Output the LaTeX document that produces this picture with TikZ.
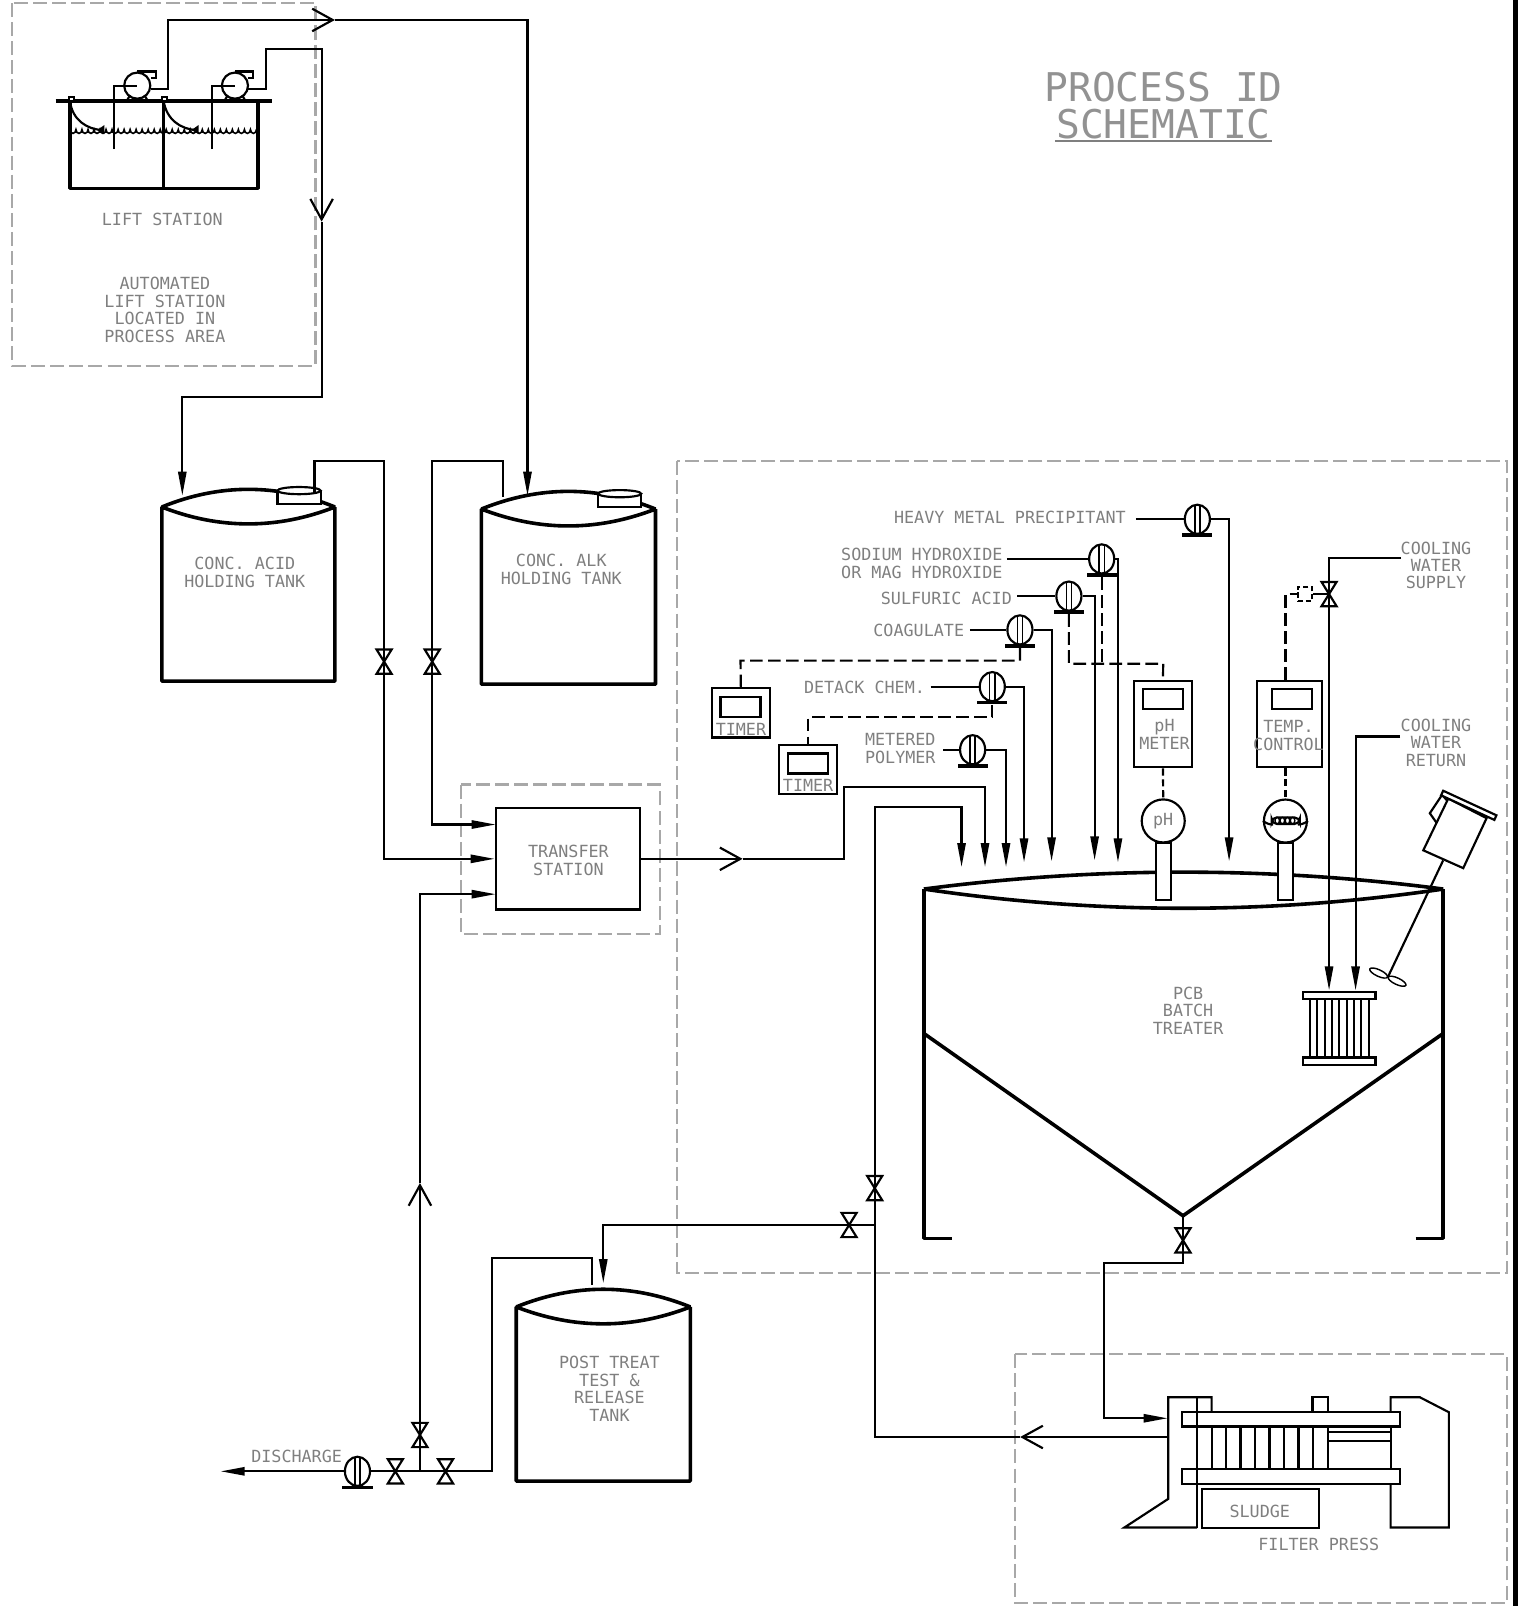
\documentclass[tikz,border=0pt]{standalone}
\usepackage{fontspec}
\setmainfont{DejaVu Sans Mono}
\usepackage{tikz}
\usetikzlibrary{arrows.meta,shapes.geometric,decorations.pathmorphing}
\definecolor{labelgray}{HTML}{7F7F7F}
\definecolor{zonegray}{HTML}{A8A8A8}
\tikzstyle{label-node}=[text=labelgray,font=\fontsize{9.3}{9.7}\selectfont,align=center,inner sep=0pt]
\tikzstyle{title-node}=[text=labelgray!85,font=\fontsize{22}{22}\selectfont,align=center,inner sep=0pt]
\tikzstyle{pump-node}=[ellipse,draw=black,line width=1.2pt,fill=white,minimum width=.49cm,minimum height=.57cm,inner sep=0pt,
  path picture={\draw[line width=.8pt] ([xshift=-.05cm]path picture bounding box.north) -- ([xshift=-.05cm]path picture bounding box.south);
    \draw[line width=.8pt] ([xshift=.05cm]path picture bounding box.north) -- ([xshift=.05cm]path picture bounding box.south);}]
\tikzstyle{base-node}=[rectangle,fill=black,minimum width=.59cm,minimum height=.07cm,inner sep=0pt]
\tikzstyle{lift-node}=[circle,draw=black,line width=1.2pt,fill=white,minimum size=.51cm,inner sep=0pt]
\tikzstyle{valve-node}=[rectangle,minimum width=.28cm,minimum height=.46cm,inner sep=0pt,
  append after command={\pgfextra{\draw[line width=1.2pt,fill=white] (\tikzlastnode.north west) -- (\tikzlastnode.north east) -- (\tikzlastnode.south west) -- (\tikzlastnode.south east) -- cycle;}}]
\tikzstyle{box-node}=[rectangle,draw=black,line width=1.2pt,fill=white,inner sep=0pt]
\tikzstyle{sensor-node}=[circle,draw=black,line width=1.2pt,fill=white,minimum size=.84cm,inner sep=0pt,text=labelgray,font=\fontsize{9.3}{9.7}\selectfont]
\tikzstyle{pipe-line}=[draw=black,line width=1.2pt,line join=miter]
\tikzstyle{tank-line}=[draw=black,line width=2pt,line join=bevel]
\tikzstyle{signal-line}=[draw=black,line width=1.2pt,dash pattern=on 7pt off 3pt]
\tikzstyle{zone-line}=[draw=zonegray,line width=1.2pt,dash pattern=on 7.8pt off 2.8pt]
\tikzstyle{open-arrow}=[->,>={Straight Barb[black,length=.4cm,width=.44cm]}]

\begin{document}
\begin{tikzpicture}[x=.02cm,y=-.02cm,>={Stealth[black,inset=0pt,length=.47cm,width=.16cm]}]
        \useasboundingbox (0,0) rectangle (1482,1568);
        \fill[black] (1477,0) rectangle (1482,1568);

        % zones
        \draw[zone-line] (12,3) rectangle (308,357);
        \draw[zone-line] (450,766) rectangle (644,912);
        \draw[zone-line] (661,450) rectangle (1471,1243);
        \draw[zone-line] (991,1322) rectangle (1471,1565);

        % title
        \node (title1)[title-node] at (1136,85) {PROCESS ID};
        \node (title2)[title-node] at (1136,121) {SCHEMATIC};
        \coordinate (title-l) at (1030,138);
        \coordinate (title-r) at (1242,138);
        \draw[draw=labelgray,line width=1.2pt] (title-l) -- (title-r);

        % lift station
        \draw[tank-line,line width=2.2pt] (54.4,99) -- (265.5,99);
        \draw[tank-line] (68.3,99) -- (68.3,184) -- (251.6,184) -- (251.6,99);
        \draw[tank-line] (159.8,99) -- (159.8,184);
        \draw[pipe-line,fill=white] (67.5,99) rectangle (72,95);
        \draw[pipe-line,fill=white] (158.5,99) rectangle (163,95);
        \draw[line width=.9pt,decorate,decoration={bumps,segment length=.235cm,amplitude=-.075cm}] (68.3,126.5) -- (251.6,126.5);
        \draw[pipe-line] (68.3,99) .. controls (71,117) and (84,126) .. (100,127);
        \draw[pipe-line] (159.8,99) .. controls (163,117) and (176,126) .. (192,127);
        \fill[black] (95,127) -- (102,122) -- (102,131) -- cycle;
        \fill[black] (187,127) -- (194,122) -- (194,131) -- cycle;

        \node (lift1)[lift-node] at (134,83.6) {};
        \node (lift2)[lift-node] at (229.4,83.6) {};
        \draw[pipe-line] (lift1.north) -- ++(18,0) -- ++(0,6.5) -- ++(-5,0);
        \draw[pipe-line] (lift2.north) -- ++(18,0) -- ++(0,6.5) -- ++(-5,0);
        \draw[pipe-line] (124,98) -- (127,93) (144,98) -- (141,93);
        \draw[pipe-line] (219.4,98) -- (222.4,93) (239.4,98) -- (236.4,93);
        \coordinate (lift1-dip) at (111.6,145.5);
        \coordinate (lift2-dip) at (206.6,145.5);
        \draw[pipe-line] (lift1-dip) |- (lift1.center);
        \draw[pipe-line] (lift2-dip) |- (lift2.center);
        \node (lift-label)[label-node] at (158.5,213.8) {LIFT STATION};
        \node (auto-label)[label-node] at (161,302.5) {AUTOMATED\\LIFT STATION\\LOCATED IN\\PROCESS AREA};

        % holding tanks
        \draw[tank-line] (158,495) .. controls (214,472) and (271,472) .. (327,495) .. controls (271,517) and (214,517) .. (158,495) -- (158,665) -- (327,665) -- (327,495);
        \draw[tank-line] (470,497) .. controls (527,474) and (583,474) .. (640,497) .. controls (583,519) and (527,519) .. (470,497) -- (470,668) -- (640,668) -- (640,497);
        \draw[tank-line] (504,1276) .. controls (561,1253) and (617,1253) .. (674,1276) .. controls (617,1298) and (561,1298) .. (504,1276) -- (504,1446) -- (674,1446) -- (674,1276);
        \draw[pipe-line,fill=white] (271,479) rectangle (313,492);
        \draw[pipe-line,fill=white] (292,479) ellipse (21 and 3.5);
        \draw[pipe-line,fill=white] (584,482) rectangle (626,495);
        \draw[pipe-line,fill=white] (605,482) ellipse (21 and 3.5);
        \node (acid-label)[label-node] at (239,559) {CONC. ACID\\HOLDING TANK};
        \node (alk-label)[label-node] at (548,556) {CONC. ALK\\HOLDING TANK};
        \node (post-label)[label-node] at (595,1356) {POST TREAT\\TEST \&\\RELEASE\\TANK};

        % batch treater
        \draw[tank-line] (902,868) .. controls (1071,846) and (1240,846) .. (1409,868) .. controls (1240,893) and (1071,893) .. (902,868);
        \draw[tank-line] (929,1209) -- (902,1209) -- (902,868);
        \draw[tank-line] (1382,1209) -- (1409,1209) -- (1409,868);
        \draw[tank-line] (902,1009) -- (1155,1187) -- (1409,1009);
        \node (pcb-label)[label-node] at (1160,986.5) {PCB\\BATCH\\TREATER};

        % mixer
        \draw[pipe-line] (1409,840) -- (1355,954);
        \draw[pipe-line,fill=white] (1408,776) -- (1396,794) -- (1402.6,803.4) -- (1420,790) -- cycle;
        \draw[pipe-line,fill=white] (1389.6,830.2) -- (1428.6,847.6) -- (1451.4,798.8) -- (1414,779.6) -- cycle;
        \draw[pipe-line,fill=white] (1409,772) -- (1461,796) -- (1459,800.5) -- (1407,776.5) -- cycle;
        \draw[line width=.8pt,rotate around={-25:(1346,950)}] (1346,950) ellipse (9.5 and 3.2);
        \draw[line width=.8pt,rotate around={-25:(1364,958)}] (1364,958) ellipse (9.5 and 3.2);

        % heat exchanger
        \node (hx-top)[box-node,minimum width=1.42cm,minimum height=.14cm] at (1307.5,972) {};
        \node (hx-bot)[box-node,minimum width=1.42cm,minimum height=.14cm] at (1307.5,1036) {};
        \draw[pipe-line] (1279,975.6) -- (1279,1032.4) (1286.2,975.6) -- (1286.2,1032.4) (1293.3,975.6) -- (1293.3,1032.4)
            (1300.5,975.6) -- (1300.5,1032.4) (1307.6,975.6) -- (1307.6,1032.4) (1314.8,975.6) -- (1314.8,1032.4)
            (1322,975.6) -- (1322,1032.4) (1329.1,975.6) -- (1329.1,1032.4) (1336.3,975.6) -- (1336.3,1032.4);

        % filter press
        \draw[pipe-line] (1168.9,1491.4) -- (1097.7,1491.4) -- (1140.6,1463.4) -- (1140.6,1364.2) -- (1182.9,1364.2) -- (1182.9,1378.8);
        \draw[pipe-line] (1168.9,1364.2) -- (1168.9,1491.4);
        \draw[pipe-line] (1154.3,1378.8) rectangle (1366.8,1392.8);
        \draw[pipe-line] (1154.3,1434.5) rectangle (1366.8,1448.8);
        \draw[pipe-line] (1182.9,1392.8) -- (1182.9,1434.5) (1197,1392.8) -- (1197,1434.5) (1211.2,1392.8) -- (1211.2,1434.5)
            (1225.4,1392.8) -- (1225.4,1434.5) (1239.5,1392.8) -- (1239.5,1434.5) (1253.7,1392.8) -- (1253.7,1434.5)
            (1267.8,1392.8) -- (1267.8,1434.5) (1282,1392.8) -- (1282,1434.5) (1296.2,1392.8) -- (1296.2,1434.5);
        \draw[pipe-line] (1281.5,1378.8) |- (1296.2,1364.2) -- (1296.2,1378.8);
        \draw[pipe-line] (1296.2,1397.7) -- (1357.7,1397.7) (1296.2,1406.8) -- (1357.7,1406.8) (1357.7,1392.8) -- (1357.7,1434.5);
        \draw[pipe-line] (1357.7,1378.8) -- (1357.7,1364.2) -- (1386.3,1364.2) -- (1414.6,1378.8) -- (1414.6,1491.4) -- (1357.7,1491.4) -- (1357.7,1448.8);
        \node (sludge)[box-node,minimum width=2.28cm,minimum height=.75cm] at (1230.9,1472.7) {};
        \node (sludge-label)[label-node] at (1230,1475.5) {SLUDGE};
        \node (press-label)[label-node] at (1287.6,1508) {FILTER PRESS};

        % instruments
        \node (timer1)[box-node,minimum width=1.14cm,minimum height=.96cm] at (723.3,696) {};
        \node (timer1-d)[box-node,minimum width=.78cm,minimum height=.39cm] at (723,690) {};
        \node (timer1-t)[label-node] at (723.4,711.7) {TIMER};
        \node (timer2)[box-node,minimum width=1.14cm,minimum height=.96cm] at (789,751.3) {};
        \node (timer2-d)[box-node,minimum width=.78cm,minimum height=.39cm] at (789,745.4) {};
        \node (timer2-t)[label-node] at (789,767) {TIMER};
        \node (meter)[box-node,minimum width=1.14cm,minimum height=1.69cm] at (1135.4,707) {};
        \node (meter-d)[box-node,minimum width=.78cm,minimum height=.39cm] at (1135.4,682.7) {};
        \node (meter-t)[label-node] at (1137,717) {pH\\METER};
        \node (temp)[box-node,minimum width=1.28cm,minimum height=1.69cm] at (1259,707) {};
        \node (temp-d)[box-node,minimum width=.78cm,minimum height=.39cm] at (1261.3,682.7) {};
        \node (temp-t)[label-node] at (1258,718) {TEMP.\\CONTROL};
        \node (stem1)[box-node,minimum width=.29cm,minimum height=1.12cm] at (1135.8,850.7) {};
        \node (stem2)[box-node,minimum width=.29cm,minimum height=1.12cm] at (1255.3,850.7) {};
        \node (sensor1)[sensor-node] at (1135.7,801.5) {pH};
        \node (sensor2)[sensor-node] at (1255,801.6) {};
        \draw[pipe-line,rounded corners=3pt] (1241.5,798) rectangle (1269,804.5);
        \draw[line width=.8pt] (1247,801.2) ellipse (2.2 and 3.2) (1252,801.2) ellipse (2.2 and 3.2) (1257,801.2) ellipse (2.2 and 3.2) (1262,801.2) ellipse (2.2 and 3.2);
        \draw[pipe-line] (sensor2.west) .. controls (1237,804) and (1239,805) .. (1243,805);
        \draw[pipe-line] (sensor2.east) .. controls (1273,804) and (1271,805) .. (1267,805);
        \node (sol)[box-node,dash pattern=on 3pt off 1.5pt,minimum width=.28cm,minimum height=.28cm] at (1274,580) {};

        % chemical feed labels
        \node (heavy-label)[label-node] at (986,505) {HEAVY METAL PRECIPITANT};
        \node (sodium-label)[label-node] at (900,550) {SODIUM HYDROXIDE\\OR MAG HYDROXIDE};
        \node (sulf-label)[label-node] at (924,584) {SULFURIC ACID};
        \node (coag-label)[label-node] at (897,615) {COAGULATE};
        \node (detack-label)[label-node] at (844,671) {DETACK CHEM.};
        \node (poly-label)[label-node] at (879,731) {METERED\\POLYMER};
        \node (supply-label)[label-node] at (1402,552) {COOLING\\WATER\\SUPPLY};
        \node (return-label)[label-node] at (1402,725) {COOLING\\WATER\\RETURN};
        \node (disch-label)[label-node] at (289.6,1422) {DISCHARGE};
        \node (xfer)[box-node,minimum width=2.82cm,minimum height=1.98cm] at (554.5,838.5) {};
        \node (xfer-label)[label-node] at (555,840) {TRANSFER\\STATION};

        % pumps
        \node (p1)[pump-node] at (1169,507) {};
        \node (p1b)[base-node] at (1169,522.6) {};
        \node (p2)[pump-node] at (1075.6,545.7) {};
        \node (p2b)[base-node] at (1075.6,561.3) {};
        \node (p3)[pump-node] at (1043.6,582) {};
        \node (p3b)[base-node] at (1043.6,597.6) {};
        \node (p4)[pump-node] at (995.8,615) {};
        \node (p4b)[base-node] at (995.8,630.6) {};
        \node (p5)[pump-node] at (968.8,670.4) {};
        \node (p5b)[base-node] at (968.8,686) {};
        \node (p6)[pump-node] at (949.6,732) {};
        \node (p6b)[base-node] at (949.6,747.6) {};
        \node (p7)[pump-node] at (349,1436.5) {};
        \node (p7b)[base-node] at (349,1452.1) {};

        % valves
        \node (v1)[valve-node] at (375,646) {};
        \node (v2)[valve-node] at (422,646) {};
        \node (v3)[valve-node] at (1297.6,580) {};
        \node (v4)[valve-node] at (410,1401) {};
        \node (v5)[valve-node] at (386,1436.5) {};
        \node (v6)[valve-node] at (435,1436.5) {};
        \node (v7)[valve-node] at (829,1196) {};
        \node (v8)[valve-node] at (854,1160) {};
        \node (v9)[valve-node] at (1155,1211) {};

        % free ends and bends
        \coordinate (lift1-out) at (147,87);
        \coordinate (lift1-c) at (164.3,19.5);
        \coordinate (lift1-tip) at (327,19.5);
        \coordinate (alk-in) at (515,484);
        \coordinate (lift2-out) at (242,87);
        \coordinate (lift2-c) at (259.4,48.2);
        \coordinate (lift2-tip) at (314,216.4);
        \coordinate (lift2-d) at (314,388);
        \coordinate (acid-in) at (178,484);
        \coordinate (acid-o) at (307,480);
        \coordinate (acid-c) at (375,450);
        \coordinate (alk-o) at (491,485);
        \coordinate (alk-c) at (422,450);
        \coordinate (xfer-b) at (484,805);
        \coordinate (xfer-c) at (484,873);
        \coordinate (xfer-tip) at (725,838.5);
        \coordinate (xfer-up) at (824,768);
        \coordinate (treat-a) at (961.7,846.6);
        \coordinate (treat-b) at (938.8,846.6);
        \coordinate (recycle-c) at (854,787.6);
        \coordinate (junc-a) at (854,1196);
        \coordinate (return-c) at (854,1403);
        \coordinate (return-tip) at (996,1403);
        \coordinate (press-o) at (1141,1403);
        \coordinate (post-in) at (589,1252.8);
        \coordinate (post-o) at (578,1254.6);
        \coordinate (post-c) at (480,1228);
        \coordinate (junc-b) at (410,1436.5);
        \coordinate (up-tip) at (410,1155);
        \coordinate (disch-tip) at (215.4,1436.5);
        \coordinate (cone-tip) at (1155,1187);
        \coordinate (cone-c) at (1078,1233);
        \coordinate (press-in) at (1140,1384.7);
        \coordinate (heavy-in) at (1109,507);
        \coordinate (sodium-in) at (983,545.7);
        \coordinate (sulf-in) at (993,582);
        \coordinate (coag-in) at (947,615);
        \coordinate (detack-in) at (908.6,670.4);
        \coordinate (poly-in) at (921,732);
        \coordinate (heavy-tip) at (1200,841);
        \coordinate (sodium-tip) at (1091.5,842);
        \coordinate (sulf-tip) at (1068.7,840);
        \coordinate (coag-tip) at (1026.7,841);
        \coordinate (detack-tip) at (999.8,842);
        \coordinate (poly-tip) at (982.2,846.6);
        \coordinate (supply-in) at (1368,545);
        \coordinate (supply-tip) at (1297.6,967);
        \coordinate (return-in) at (1367,719);
        \coordinate (hx-tip) at (1323.5,967);
        \coordinate (ph-join) at (1135.7,648);
        \coordinate (timer1-c) at (723,645);
        \coordinate (timer2-c) at (789,700.3);

        \begin{scope}
            % lift station lines
            \draw[pipe-line,open-arrow] (lift1-out) -| (lift1-c) -- (lift1-tip);
            \draw[pipe-line,->] (lift1-tip) -| (alk-in);
            \draw[pipe-line,open-arrow] (lift2-out) -| (lift2-c) -| (lift2-tip);
            \draw[pipe-line,->] (lift2-tip) -- (lift2-d) -| (acid-in);

            % holding tanks to transfer station
            \draw[pipe-line] (acid-o) |- (acid-c) -- (v1.center);
            \draw[pipe-line,->] (v1.center) |- (xfer.west);
            \draw[pipe-line] (alk-o) |- (alk-c) -- (v2.center);
            \draw[pipe-line,->] (v2.center) |- (xfer-b);
            \draw[pipe-line,open-arrow] (xfer.east) -- (xfer-tip);
            \draw[pipe-line,->] (xfer-tip) -| (xfer-up) -| (treat-a);

            % recycle and discharge
            \draw[pipe-line] (p7.east) -- (v5.center) -- (junc-b) -- (v6.center) -| (post-c) -| (post-o);
            \draw[pipe-line,open-arrow] (junc-b) -- (v4.center) -- (up-tip);
            \draw[pipe-line,->] (up-tip) |- (xfer-c);
            \draw[pipe-line,->] (p7.west) -- (disch-tip);
            \draw[pipe-line,open-arrow] (press-o) -- (return-tip);
            \draw[pipe-line] (return-tip) -- (return-c) -- (junc-a) -- (v8.center);
            \draw[pipe-line,->] (v8.center) -- (recycle-c) -| (treat-b);
            \draw[pipe-line,->] (junc-a) -- (v7.center) -| (post-in);
            \draw[pipe-line] (cone-tip) -- (v9.center);
            \draw[pipe-line,->] (v9.center) |- (cone-c) |- (press-in);

            % chemical feeds
            \draw[pipe-line] (heavy-in) -- (p1.west);
            \draw[pipe-line,->] (p1.east) -| (heavy-tip);
            \draw[pipe-line] (sodium-in) -- (p2.west);
            \draw[pipe-line,->] (p2.east) -| (sodium-tip);
            \draw[pipe-line] (sulf-in) -- (p3.west);
            \draw[pipe-line,->] (p3.east) -| (sulf-tip);
            \draw[pipe-line] (coag-in) -- (p4.west);
            \draw[pipe-line,->] (p4.east) -| (coag-tip);
            \draw[pipe-line] (detack-in) -- (p5.west);
            \draw[pipe-line,->] (p5.east) -| (detack-tip);
            \draw[pipe-line] (poly-in) -- (p6.west);
            \draw[pipe-line,->] (p6.east) -| (poly-tip);

            % cooling water
            \draw[pipe-line] (supply-in) -| (v3.center);
            \draw[pipe-line,->] (v3.center) -- (supply-tip);
            \draw[pipe-line,->] (return-in) -| (hx-tip);

            % signals
            \draw[signal-line] (p4b.south) |- (timer1-c) -- (timer1.north);
            \draw[signal-line] (p5b.south) |- (timer2-c) -- (timer2.north);
            \draw[signal-line] (p3b.south) |- (ph-join) -- (meter.north);
            \draw[signal-line] (p2b.south) -- (p2b.south |- ph-join);
            \draw[signal-line,dash pattern=on 4pt off 2pt] (meter.south) -- (sensor1.north);
            \draw[signal-line,dash pattern=on 4pt off 2pt] (sensor2.north |- temp.south) -- (sensor2.north);
            \draw[signal-line] (sensor2.north |- temp.north) |- (sol.west);
            \draw[pipe-line] (sol.east) -- (v3.center);
        \end{scope}

    \end{tikzpicture}
\end{document}
